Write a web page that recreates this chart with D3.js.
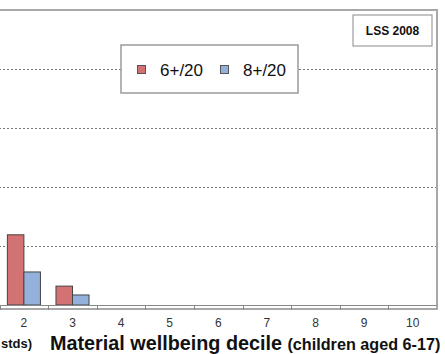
<!DOCTYPE html>
<html>
<head>
<meta charset="utf-8">
<script src="https://cdn.jsdelivr.net/npm/d3@7"></script>
<style>
  body { margin: 0; background: #fff; }
  svg { display: block; font-family: "Liberation Sans", Arial, sans-serif; }
</style>
</head>
<body>
<div id="chart"></div>
<script>
// deciles 1..10 (decile 1 sits off the left edge of the crop)
const deciles = [1, 2, 3, 4, 5, 6, 7, 8, 9, 10];
const seriesNames = ["6+/20", "8+/20"];
const dep6 = [34, 11.9, 3.2, 0, 0, 0, 0, 0, 0, 0];
const dep8 = [21, 5.6, 1.7, 0, 0, 0, 0, 0, 0, 0];
const yTicks = [0, 10, 20, 30, 40, 50];
const colors = { "6+/20": "#d27272", "8+/20": "#93b1da" };

const width = 445, height = 354;
const plot = { left: -49, right: 437, top: 10, bottom: 305 };

const svg = d3.select("#chart").append("svg")
    .attr("width", width)
    .attr("height", height);

const x = d3.scaleBand()
    .domain(deciles)
    .range([plot.left, plot.right])
    .padding(0);

const xSub = d3.scaleBand()
    .domain(seriesNames)
    .range([0, x.bandwidth()])
    .paddingInner(0)
    .paddingOuter(0.47);

const y = d3.scaleLinear()
    .domain([0, 50])
    .range([plot.bottom, plot.top]);

// dashed gridlines
svg.append("g")
    .selectAll("line")
    .data(yTicks.filter(d => d > 0 && d < 50))
    .join("line")
    .attr("x1", plot.left)
    .attr("x2", plot.right)
    .attr("y1", d => Math.round(y(d)) + 0.5)
    .attr("y2", d => Math.round(y(d)) + 0.5)
    .attr("stroke", "#777")
    .attr("stroke-width", 1)
    .attr("stroke-dasharray", "2,2");

// plot area frame
svg.append("rect")
    .attr("x", plot.left)
    .attr("y", plot.top)
    .attr("width", plot.right - plot.left)
    .attr("height", plot.bottom - plot.top + 4)
    .attr("fill", "none")
    .attr("stroke", "#a8a8a8")
    .attr("stroke-width", 2);

// bars
const rows = deciles.map((d, i) => ({ decile: d, values: [dep6[i], dep8[i]] }));
const groups = svg.append("g")
    .selectAll("g")
    .data(rows)
    .join("g")
    .attr("transform", d => `translate(${x(d.decile)},0)`);

groups.selectAll("rect")
    .data(d => seriesNames.map((s, j) => ({ key: s, value: d.values[j] })))
    .join("rect")
    .filter(d => d.value > 0)
    .attr("x", d => xSub(d.key))
    .attr("y", d => y(d.value))
    .attr("width", xSub.bandwidth())
    .attr("height", d => y(0) - y(d.value))
    .attr("fill", d => colors[d.key])
    .attr("stroke", "#444")
    .attr("stroke-width", 1);

// x axis
const xAxis = svg.append("g")
    .attr("transform", `translate(0,${plot.bottom})`);
xAxis.append("line")
    .attr("x1", plot.left)
    .attr("x2", plot.right)
    .attr("y1", 0.5)
    .attr("y2", 0.5)
    .attr("stroke", "#888");
xAxis.selectAll("line.tick")
    .data(deciles.slice(1))
    .join("line")
    .attr("class", "tick")
    .attr("x1", d => Math.round(x(d)) + 0.5)
    .attr("x2", d => Math.round(x(d)) + 0.5)
    .attr("y1", 0)
    .attr("y2", 5)
    .attr("stroke", "#888");
xAxis.selectAll("text")
    .data(deciles)
    .join("text")
    .attr("x", d => x(d) + x.bandwidth() / 2)
    .attr("y", 22)
    .attr("text-anchor", "middle")
    .attr("font-size", 12)
    .attr("fill", "#333")
    .text(d => d);

// axis title
svg.append("text")
    .attr("x", 32)
    .attr("y", 348)
    .attr("text-anchor", "end")
    .attr("font-size", 13)
    .attr("font-weight", "bold")
    .attr("fill", "#111")
    .text("stds)");

const title = svg.append("text")
    .attr("x", 50)
    .attr("y", 350)
    .attr("fill", "#111")
    .attr("font-weight", "bold");
title.append("tspan")
    .attr("font-size", 19.8)
    .text("Material wellbeing decile ");
title.append("tspan")
    .attr("font-size", 16.2)
    .text("(children aged 6-17)");

// legend
const legend = svg.append("g").attr("transform", "translate(121,45)");
legend.append("rect")
    .attr("width", 177)
    .attr("height", 48)
    .attr("fill", "#fff")
    .attr("stroke", "#9a9a9a")
    .attr("stroke-width", 1.5);
const legendX = [16, 99];
seriesNames.forEach((s, i) => {
    legend.append("rect")
        .attr("x", legendX[i] + 0.5)
        .attr("y", 20.5)
        .attr("width", 8)
        .attr("height", 8)
        .attr("fill", colors[s])
        .attr("stroke", "#555");
    legend.append("text")
        .attr("x", legendX[i] + 23)
        .attr("y", 31)
        .attr("font-size", 17)
        .attr("fill", "#111")
        .text(s);
});

// survey label
const tag = svg.append("g").attr("transform", "translate(353,15)");
tag.append("rect")
    .attr("width", 79)
    .attr("height", 31)
    .attr("fill", "#fff")
    .attr("stroke", "#8a8a8a")
    .attr("stroke-width", 1);
tag.append("text")
    .attr("x", 39.5)
    .attr("y", 20)
    .attr("text-anchor", "middle")
    .attr("font-size", 12)
    .attr("font-weight", "bold")
    .attr("fill", "#111")
    .text("LSS 2008");
</script>
</body>
</html>
